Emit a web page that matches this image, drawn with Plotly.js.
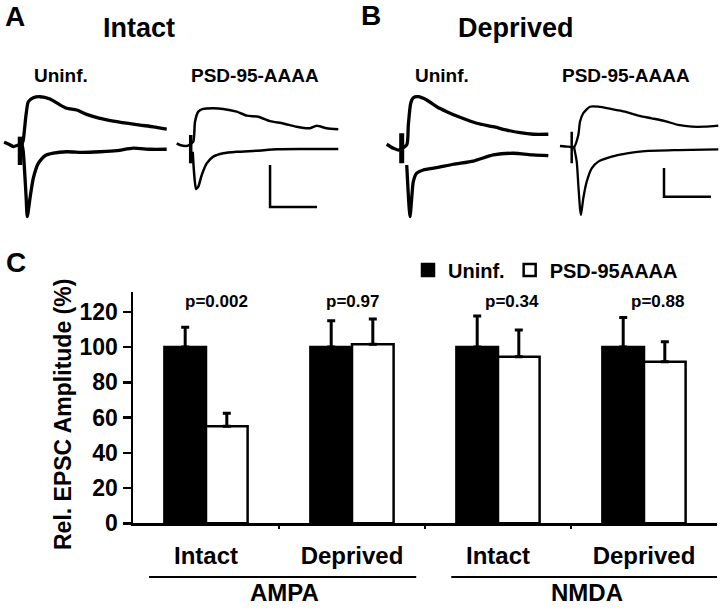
<!DOCTYPE html>
<html>
<head>
<meta charset="utf-8">
<script src="https://cdn.plot.ly/plotly-3.0.1.min.js"></script>
<style>html,body{margin:0;padding:0;background:#fff;}#chart{width:720px;height:610px;}</style>
</head>
<body>
<div id="chart"></div>
<script>
// ---------- Panel C data ----------
var categories = ['Intact', 'Deprived', 'Intact', 'Deprived'];
var receptors = ['AMPA', 'NMDA'];
var seriesNames = ['Uninf.', 'PSD-95AAAA'];
var uninfValues = [100, 100, 100, 100];
var uninfErr = [11.2, 14.9, 17.6, 16.8];
var psdValues = [55, 101.5, 94.5, 91.7];
var psdErr = [7.4, 14.4, 15.1, 11.3];
var pValues = ['p=0.002', 'p=0.97', 'p=0.34', 'p=0.88'];
var yTickVals = [0, 20, 40, 60, 80, 100, 120];

// ---------- Panels A/B example EPSC traces (time ms, current pA) ----------
// A, Uninf.
var aUninfUpT = [-34, -25, -14, -4, 4.3, 7, 12.8, 17.7, 28.3, 42.6, 63.9, 85.2, 99.5, 120.8, 142, 170.4, 198.7, 227.3, 255.6, 284, 312.5];
var aUninfUpI = [8, 0, -12, -5, 0, 19, 138, 201, 220, 225, 214, 186, 170, 162, 141, 122, 109, 99, 90, 82, 71];
var aUninfLoT = [4.3, 7, 12.8, 15.5, 21.3, 28.3, 39, 53.3, 71, 99.5, 134.8, 170.4, 206, 241.3, 277, 312.5];
var aUninfLoI = [0, -37, -243, -346, -258, -163, -92, -56, -44, -37, -40, -37, -32, -20, -25, -25];
var aUninfArtT = [0, 0];
var aUninfArtI = [35, -100];
// A, PSD-95-AAAA
var aPsdUpT = [-29.8, -22.8, -10, -3.6, 5.5, 9.2, 16.2, 26.8, 48.1, 69.4, 98, 119.3, 144, 169, 197, 225.8, 254.3, 268.4, 289.7, 314.4];
var aPsdUpI = [3, -5, -10, -5, 11, 106, 154, 167, 170, 167, 154, 135, 130, 109, 98, 82, 75, 87, 75, 70];
var aPsdLoT = [4.3, 7, 11.3, 16.2, 23.4, 34.1, 48.1, 69.4, 98, 140.6, 183.2, 239.8, 314.4];
var aPsdLoI = [-37, -132, -214, -203, -148, -92, -60, -44, -37, -32, -25, -24, -24];
var aPsdArtT = [0, 0];
var aPsdArtI = [43, -92];
var aScaleT = [169, 169, 269];
var aScaleI = [-100, -300, -300];
// B, Uninf.
var bUninfUpT = [-32, -17.9, -7.2, 10.7, 14.1, 19.2, 24.7, 35.4, 53.3, 74.6, 95.9, 124.2, 159.8, 195.1, 223.7, 252, 280.3, 312.3];
var bUninfUpI = [19, -9, -21, 14, 152, 302, 340, 347, 324, 278, 244, 205, 164, 140, 117, 99, 88, 88];
var bUninfLoT = [10.7, 14.1, 17.7, 21.3, 24.7, 32, 46, 74.6, 110, 152.5, 195.1, 237.7, 280.3, 312.3];
var bUninfLoI = [-124, -331, -481, -354, -239, -181, -159, -143, -119, -97, -55, -43, -55, -60];
var bUninfArtT = [0, 0];
var bUninfArtI = [95, -112];
// B, PSD-95-AAAA
var bPsdUpT = [-25, -7.2, 4.9, 14.1, 17.7, 24.7, 39, 56.7, 85.2, 113.5, 141.9, 170.4, 198.7, 227, 255.6, 284, 312.3];
var bPsdUpI = [7, 2, 0, 83, 175, 233, 278, 278, 262, 244, 216, 198, 179, 152, 140, 140, 147];
var bPsdLoT = [4.9, 10.7, 14.1, 17.7, 19.8, 24.7, 32, 42.6, 56.7, 85.2, 120.6, 156.1, 227, 312.3];
var bPsdLoI = [0, -101, -262, -423, -469, -354, -239, -147, -101, -67, -43, -28, -21, -16];
var bPsdArtT = [0, 0];
var bPsdArtI = [105, -112];
var bScaleT = [196.6, 196.6, 296.6];
var bScaleI = [-145, -343, -343];

// ---------- layout helpers ----------
var W = 720, H = 610;
var FONT = 'Liberation Sans, Arial, Helvetica, sans-serif';
function px(x) { return x / W; }
function py(y) { return 1 - y / H; }
function subAxes(box, origin, msPerPx, pAPerPx) {
  return {
    x: {domain: [px(box[0]), px(box[1])], range: [(box[0] - origin[0]) * msPerPx, (box[1] - origin[0]) * msPerPx],
        visible: false, fixedrange: true},
    y: {domain: [py(box[3]), py(box[2])], range: [(origin[1] - box[3]) * pAPerPx, (origin[1] - box[2]) * pAPerPx],
        visible: false, fixedrange: true}
  };
}
var sA1 = subAxes([0, 172, 80, 228], [20, 144], 2.13, 4.76);
var sA2 = subAxes([172, 345, 80, 228], [190.7, 144], 2.13, 4.76);
var sB1 = subAxes([380, 550, 80, 228], [401.7, 147], 2.13, 6.9);
var sB2 = subAxes([550, 720, 80, 228], [571.7, 147], 2.13, 6.9);

function line(t, i, ax, w) {
  return {x: t, y: i, xaxis: 'x' + ax, yaxis: 'y' + ax, type: 'scatter', mode: 'lines',
          line: {color: '#000', width: w, shape: 'spline', smoothing: 0.6}, showlegend: false, hoverinfo: 'skip'};
}
function straight(t, i, ax, w) {
  return {x: t, y: i, xaxis: 'x' + ax, yaxis: 'y' + ax, type: 'scatter', mode: 'lines',
          line: {color: '#000', width: w}, showlegend: false, hoverinfo: 'skip'};
}

var xIdx = categories.map(function (c, k) { return k; });
var zeros = categories.map(function () { return 0; });

var data = [
  {type: 'bar', name: seriesNames[0], x: xIdx, y: uninfValues,
   marker: {color: '#000', line: {color: '#000', width: 2.5}},
   error_y: {type: 'data', symmetric: false, array: uninfErr, arrayminus: zeros, color: '#000', thickness: 3, width: 4},
   hoverinfo: 'skip'},
  {type: 'bar', name: seriesNames[1], x: xIdx, y: psdValues,
   marker: {color: '#fff', line: {color: '#000', width: 2.5}},
   error_y: {type: 'data', symmetric: false, array: psdErr, arrayminus: zeros, color: '#000', thickness: 3, width: 4},
   hoverinfo: 'skip'},
  line(aUninfUpT, aUninfUpI, 2, 3.3), line(aUninfLoT, aUninfLoI, 2, 3.3), straight(aUninfArtT, aUninfArtI, 2, 4.5),
  line(aPsdUpT, aPsdUpI, 3, 2.5), line(aPsdLoT, aPsdLoI, 3, 2.5), straight(aPsdArtT, aPsdArtI, 3, 3.5),
  straight(aScaleT, aScaleI, 3, 2.5),
  line(bUninfUpT, bUninfUpI, 4, 3.3), line(bUninfLoT, bUninfLoI, 4, 3.3), straight(bUninfArtT, bUninfArtI, 4, 5),
  line(bPsdUpT, bPsdUpI, 5, 2.3), line(bPsdLoT, bPsdLoI, 5, 2.3), straight(bPsdArtT, bPsdArtI, 5, 2.5),
  straight(bScaleT, bScaleI, 5, 2.5)
];

function ann(text, x, y, size, extra) {
  var a = {text: '<b>' + text + '</b>', x: px(x), y: py(y), xref: 'paper', yref: 'paper',
           xanchor: 'center', yanchor: 'middle', showarrow: false,
           font: {family: FONT, size: size, color: '#000'}};
  if (extra) for (var k in extra) a[k] = extra[k];
  return a;
}

var annotations = [
  ann('A', 15, 17, 28), ann('Intact', 139, 28, 27),
  ann('B', 371, 15, 28), ann('Deprived', 516, 28, 27),
  ann('Uninf.', 61, 75, 19), ann('PSD-95-AAAA', 255, 75, 19),
  ann('Uninf.', 442, 75, 19), ann('PSD-95-AAAA', 626, 75, 19),
  ann('C', 16, 262, 28),
  ann('Rel. EPSC Amplitude (%)', 63, 415, 23, {textangle: -90}),
  ann(receptors[0], 284, 592, 24), ann(receptors[1], 587, 592, 24)
];
var pShift = [10, 0, 14, 13];
pValues.forEach(function (p, k) {
  annotations.push({text: '<b>' + p + '</b>', x: xIdx[k], y: 125.6, xref: 'x', yref: 'y', xshift: pShift[k],
                    xanchor: 'center', yanchor: 'middle', showarrow: false,
                    font: {family: FONT, size: 17, color: '#000'}});
});

var shapes = [
  {type: 'line', xref: 'x', yref: 'paper', x0: -0.39, x1: 1.44, y0: py(577), y1: py(577), line: {color: '#000', width: 2}},
  {type: 'line', xref: 'x', yref: 'paper', x0: 1.68, x1: 3.5, y0: py(577), y1: py(577), line: {color: '#000', width: 2}}
];

var layout = {
  width: W, height: H,
  margin: {l: 0, r: 0, t: 0, b: 0, pad: 0},
  paper_bgcolor: '#fff', plot_bgcolor: 'rgba(0,0,0,0)',
  font: {family: FONT, color: '#000'},
  barmode: 'group', bargap: 0.43, bargroupgap: 0,
  showlegend: true,
  legend: {orientation: 'h', x: px(408), y: py(270), xanchor: 'left', yanchor: 'middle',
           font: {family: FONT, size: 20, weight: 'bold', color: '#000'}, bgcolor: 'rgba(0,0,0,0)',
           itemwidth: 30, tracegroupgap: 0},
  xaxis: {domain: [px(133), px(717)], range: [-0.5, 3.5], tickmode: 'array', tickvals: xIdx, ticktext: categories,
          ticks: '', showline: true, linecolor: '#000', linewidth: 2.5, showgrid: false, zeroline: false,
          tickfont: {family: FONT, size: 24, weight: 'bold', color: '#000'}, ticklabelstandoff: 9,
          minor: {tickvals: [0.5, 1.5, 2.5], ticks: 'outside', ticklen: 3, tickwidth: 2, tickcolor: '#000'},
          fixedrange: true},
  yaxis: {domain: [py(523.3), py(292)], range: [0, 131.2], tickmode: 'array', tickvals: yTickVals,
          ticks: 'outside', ticklen: 8, tickwidth: 2.5, tickcolor: '#000',
          showline: true, linecolor: '#000', linewidth: 2.5, showgrid: false, zeroline: false,
          tickfont: {family: FONT, size: 23, weight: 'bold', color: '#000'}, fixedrange: true},
  xaxis2: sA1.x, yaxis2: sA1.y,
  xaxis3: sA2.x, yaxis3: sA2.y,
  xaxis4: sB1.x, yaxis4: sB1.y,
  xaxis5: sB2.x, yaxis5: sB2.y,
  annotations: annotations,
  shapes: shapes
};

Plotly.newPlot('chart', data, layout, {displayModeBar: false, staticPlot: true});
</script>
</body>
</html>
